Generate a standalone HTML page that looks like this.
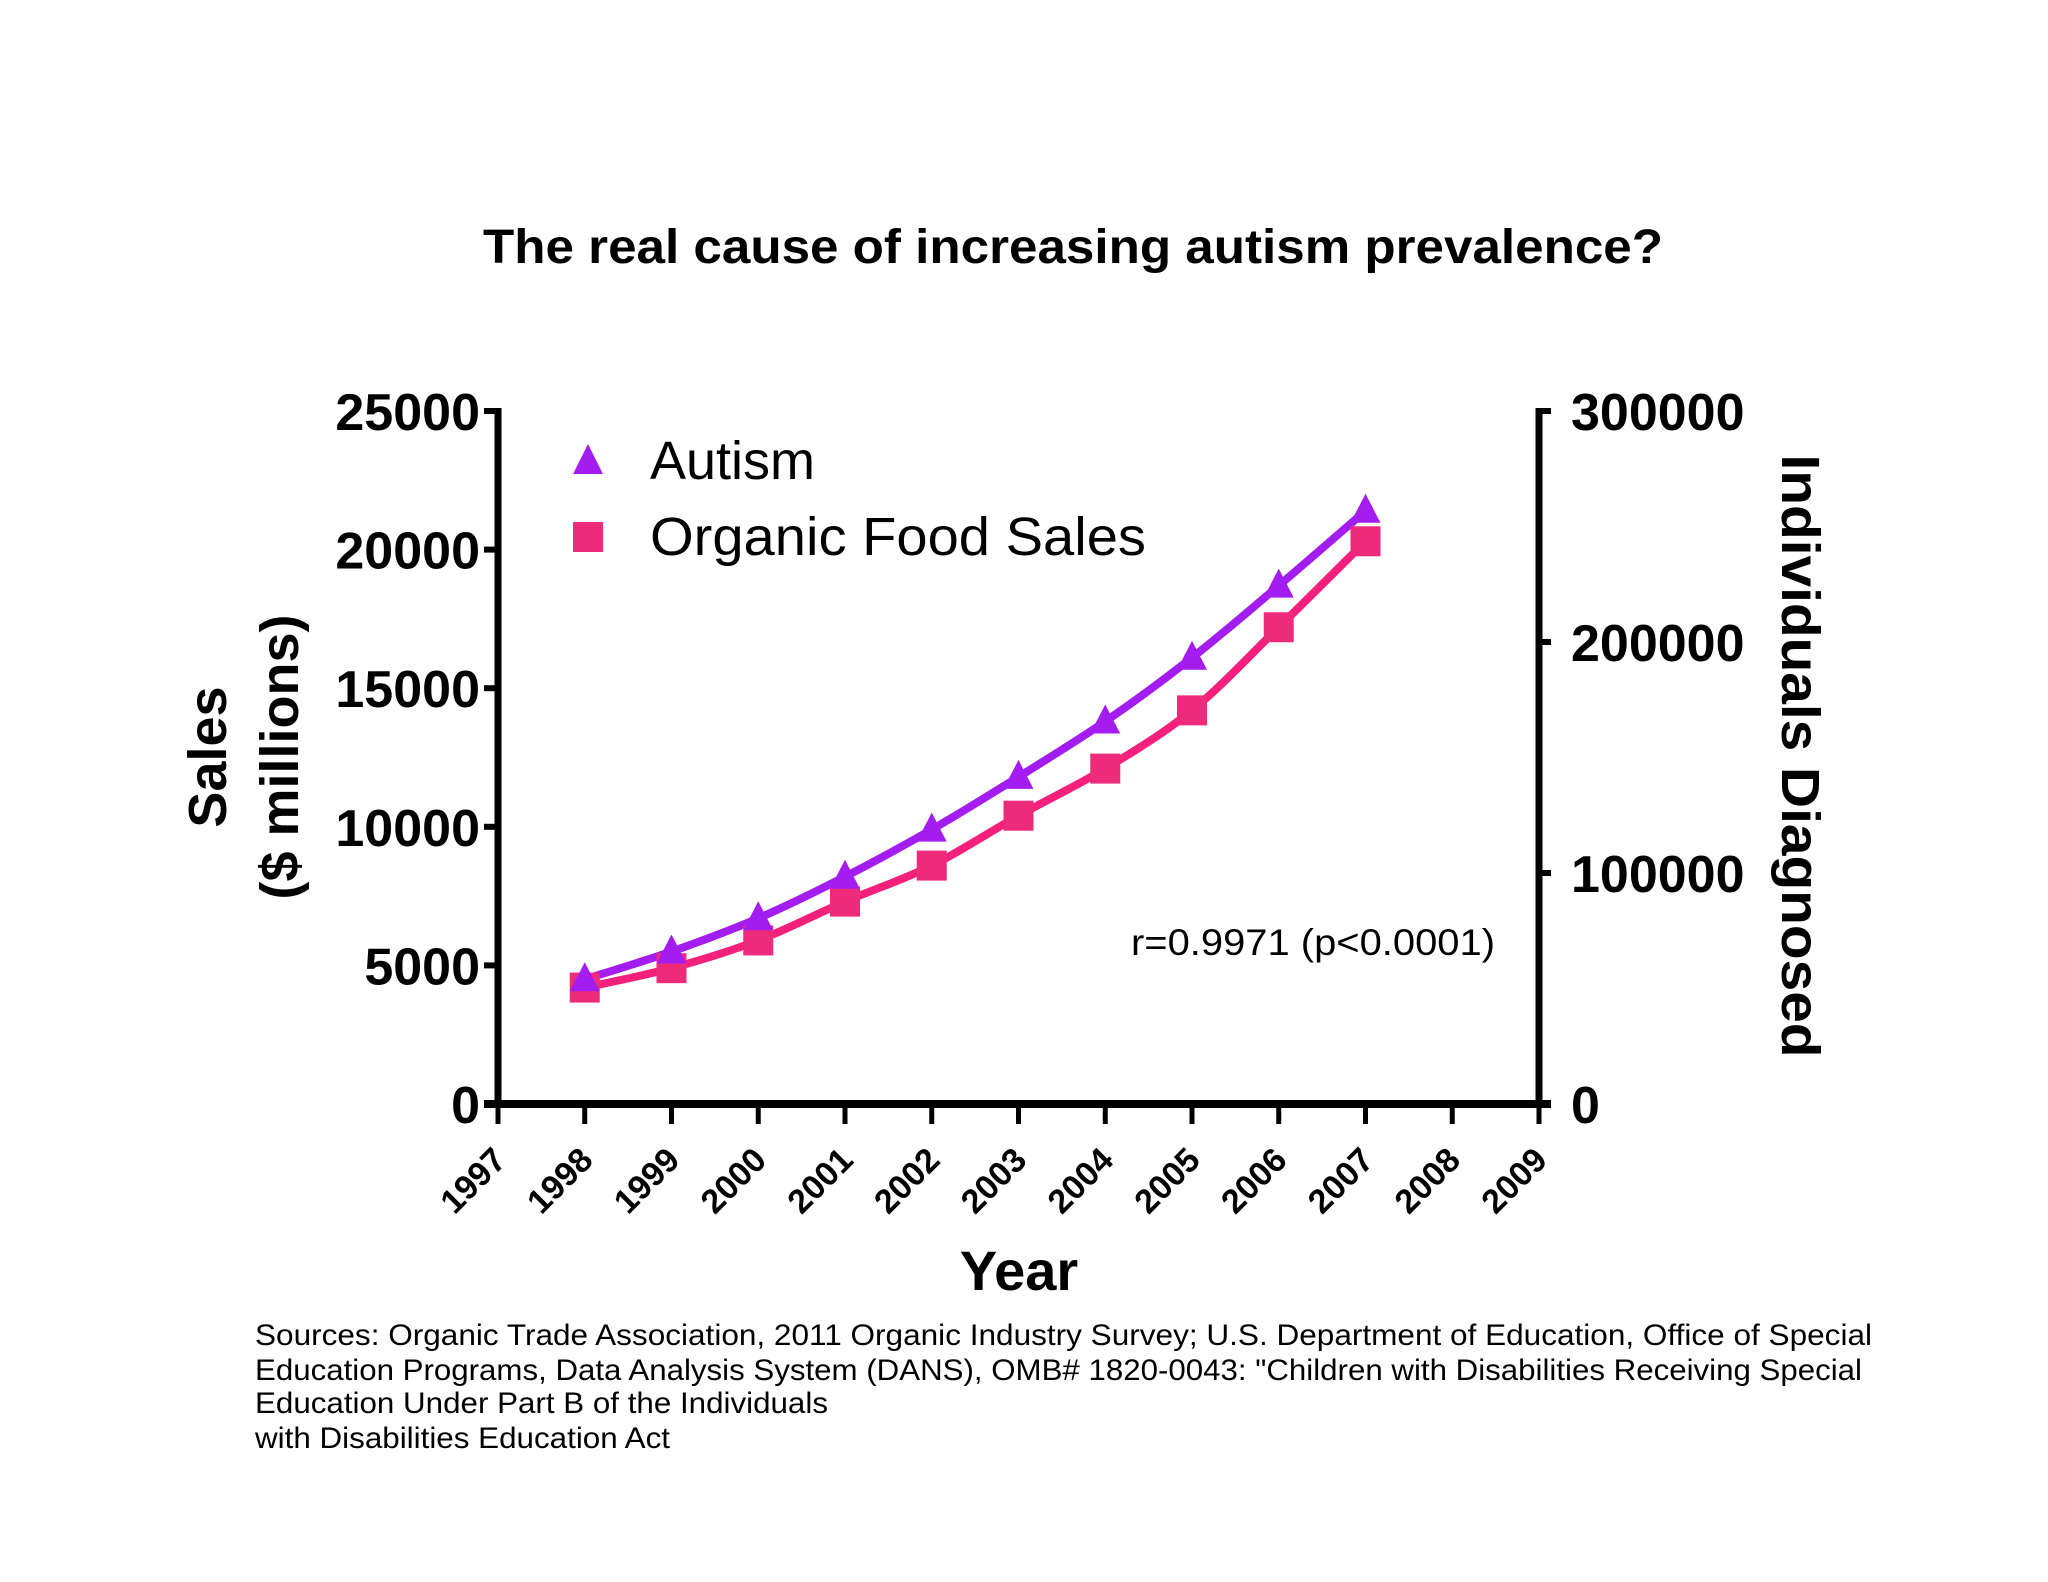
<!DOCTYPE html>
<html><head><meta charset="utf-8"><style>
html,body{margin:0;padding:0;background:#fff;}
svg{display:block;font-family:"Liberation Sans",Arial,sans-serif;}
</style></head><body>
<svg id="chart" width="2048" height="1582" viewBox="0 0 2048 1582">
<rect width="2048" height="1582" fill="#fff"/>
<text x="1073" y="263" text-anchor="middle" font-size="48" font-weight="bold" textLength="1180" lengthAdjust="spacingAndGlyphs">The real cause of increasing autism prevalence?</text>
<g id="axes"></g>
<g id="marks"></g>
<g>
<polygon points="588,444 603,474 573,474" fill="#a31cf0"/>
<text x="650" y="479" font-size="54">Autism</text>
<rect x="573" y="522" width="30" height="30" fill="#ee2a7b"/>
<text x="650" y="555" font-size="54" textLength="496" lengthAdjust="spacingAndGlyphs">Organic Food Sales</text>
</g>
<text x="1131" y="955" font-size="37" textLength="364" lengthAdjust="spacingAndGlyphs">r=0.9971 (p&lt;0.0001)</text>
<text transform="translate(226,757) rotate(-90)" text-anchor="middle" font-size="54" font-weight="bold">Sales</text>
<text transform="translate(298,757) rotate(-90)" text-anchor="middle" font-size="54" font-weight="bold">($ millions)</text>
<text transform="translate(1782,756) rotate(90)" text-anchor="middle" font-size="54" font-weight="bold" textLength="603" lengthAdjust="spacingAndGlyphs">Individuals Diagnosed</text>
<text x="1019" y="1290" text-anchor="middle" font-size="56" font-weight="bold">Year</text>
<g font-size="30">
<text x="255" y="1345" textLength="1617" lengthAdjust="spacingAndGlyphs">Sources: Organic Trade Association,  2011 Organic Industry Survey; U.S. Department of Education, Office of Special</text>
<text x="255" y="1380" textLength="1607" lengthAdjust="spacingAndGlyphs">Education Programs, Data Analysis System (DANS), OMB# 1820-0043: "Children with Disabilities Receiving Special</text>
<text x="255" y="1413" textLength="573" lengthAdjust="spacingAndGlyphs">Education Under Part B of the Individuals</text>
<text x="255" y="1448" textLength="415" lengthAdjust="spacingAndGlyphs">with Disabilities Education Act</text>
</g>
</svg>
<script>
const years = [1998,1999,2000,2001,2002,2003,2004,2005,2006,2007];
const autism = [54000,66000,80400,98400,118800,141600,165600,193200,224400,256800];
const organicSales = [4200,4900,5900,7300,8600,10400,12100,14200,17200,20300];
const xTicks = [1997,1998,1999,2000,2001,2002,2003,2004,2005,2006,2007,2008,2009];
const yTicks = [0,5000,10000,15000,20000,25000];
const y2Ticks = [0,100000,200000,300000];

const NS='http://www.w3.org/2000/svg';
const X0=498,X1=1539,Y0=1104,Y1=411;
const xs=v=>X0+(v-1997)/(2009-1997)*(X1-X0);
const ys=v=>Y0-v/25000*(Y0-Y1);
const ys2=v=>Y0-v/300000*(Y0-Y1);
function mk(tag,attrs,parent){const e=document.createElementNS(NS,tag);for(const k in attrs)e.setAttribute(k,attrs[k]);parent.appendChild(e);return e;}
const axes=document.getElementById('axes'), marks=document.getElementById('marks');

let a=mk('line',{x1:X0,y1:Y1-3,x2:X0,y2:Y0+3,stroke:'#000','stroke-width':7},axes);


a=mk('line',{x1:X1,y1:Y1-3,x2:X1,y2:Y0+3,stroke:'#000','stroke-width':7},axes);


a=mk('line',{x1:X0-14,y1:Y0,x2:X1+12,y2:Y0,stroke:'#000','stroke-width':8},axes);



yTicks.forEach(v=>{
  const y=ys(v);
  mk('line',{x1:X0-14,y1:y,x2:X0,y2:y,stroke:'#000','stroke-width':6},axes);
  const t=mk('text',{x:X0-18,y:y+19,'text-anchor':'end','font-size':52,'font-weight':'bold'},axes);
  t.textContent=v;
  
  
});
y2Ticks.forEach(v=>{
  const y=ys2(v);
  mk('line',{x1:X1,y1:y,x2:X1+12,y2:y,stroke:'#000','stroke-width':6},axes);
  const t=mk('text',{x:X1+32,y:y+19,'font-size':52,'font-weight':'bold'},axes);
  t.textContent=v;
  
  
});
xTicks.forEach(v=>{
  const x=xs(v);
  mk('line',{x1:x,y1:Y0,x2:x,y2:Y0+20,stroke:'#000','stroke-width':5},axes);
  const t=mk('text',{transform:`translate(${x+10},${Y0+58}) rotate(-45)`,'text-anchor':'end','font-size':34,'font-weight':'bold'},axes);
  t.textContent=v;
  
  
});

function smooth(pts){
  let d=`M${pts[0][0]},${pts[0][1]}`;
  for(let i=0;i<pts.length-1;i++){
    const p0=pts[Math.max(i-1,0)],p1=pts[i],p2=pts[i+1],p3=pts[Math.min(i+2,pts.length-1)];
    d+=` C${p1[0]+(p2[0]-p0[0])/6},${p1[1]+(p2[1]-p0[1])/6} ${p2[0]-(p3[0]-p1[0])/6},${p2[1]-(p3[1]-p1[1])/6} ${p2[0]},${p2[1]}`;
  }
  return d;
}
const aPts=years.map((y,i)=>[xs(y),ys2(autism[i])]);
const oPts=years.map((y,i)=>[xs(y),ys(organicSales[i])]);
let p=mk('path',{d:smooth(oPts),fill:'none',stroke:'#f51f7c','stroke-width':8},marks);


p=mk('path',{d:smooth(aPts),fill:'none',stroke:'#a31cf0','stroke-width':8},marks);


oPts.forEach(([x,y])=>{
  const r=mk('rect',{x:x-15,y:y-15,width:30,height:30,fill:'#ee2a7b'},marks);
  
  
});
aPts.forEach(([x,y])=>{
  const t=mk('polygon',{points:`${x},${y-17} ${x+15},${y+12} ${x-15},${y+12}`,fill:'#a31cf0'},marks);
  
  
});
</script>
</body></html>
